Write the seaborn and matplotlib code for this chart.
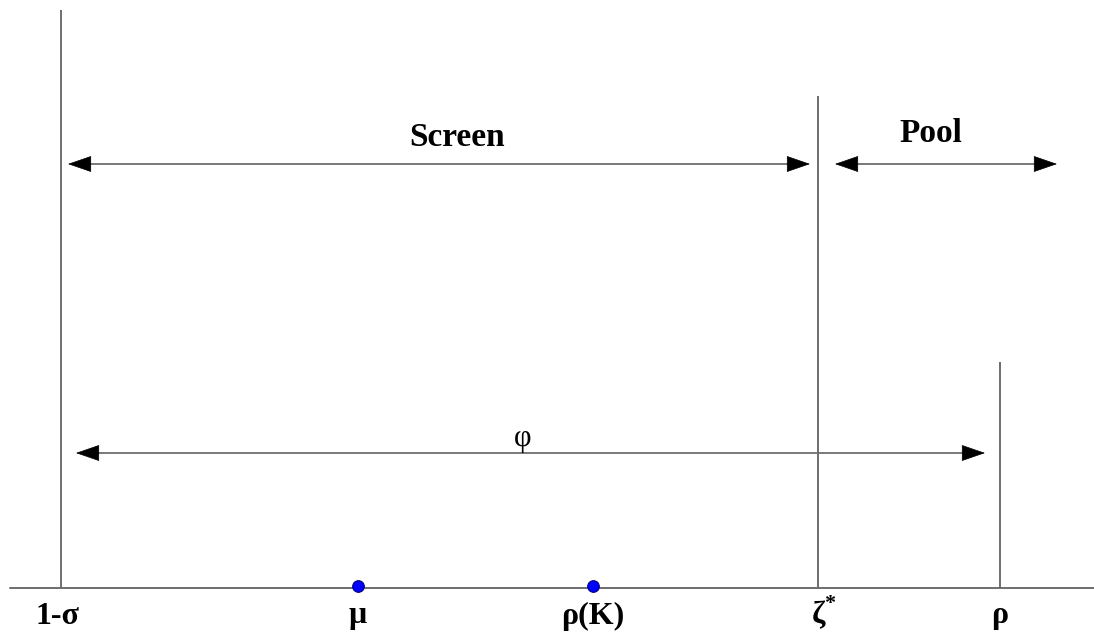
import matplotlib
matplotlib.use("Agg")
import matplotlib.pyplot as plt
import seaborn as sns
import pandas as pd

# Positions along the horizontal axis
tick_labels = ["1-σ", "μ", "ρ(K)", "ζ", "ρ"]
tick_x = [58, 358, 593, 818, 1000]

# Vertical markers: position and height above the baseline
vline_x = [61, 818, 1000]
vline_top = [578, 492, 226]

# Highlighted points on the baseline
point_names = ["μ", "ρ(K)"]
point_x = [358, 593]

# Double-headed range arrows: (start, end, height, label, label height)
arrow_start = [68, 835, 76]
arrow_end = [810, 1057, 985]
arrow_y = [424, 424, 135]
arrow_text = ["Screen", "Pool", "φ"]
arrow_text_y = [451, 455, 135]
arrow_text_x = [457, 931, 523]

sns.set_theme(style="white")
plt.rcParams["font.family"] = ["Liberation Serif", "DejaVu Serif"]

fig = plt.figure(figsize=(10.94, 6.36), dpi=100)
ax = fig.add_axes([0, 0, 1, 1])
ax.set_xlim(0, 1094)
ax.set_ylim(-48, 588)
ax.axis("off")

line_col = "#6e6e6e"

# Baseline
ax.plot([10, 1094], [0, 0], color=line_col, lw=1.4, zorder=1)

# Vertical markers
ax.vlines(vline_x, 0, vline_top, color=line_col, lw=1.4, zorder=1)

# Points
pts = pd.DataFrame({"name": point_names, "x": point_x, "y": [2, 2]})
sns.scatterplot(data=pts, x="x", y="y", ax=ax, color="#0000ff",
                edgecolor="#000080", linewidth=0.8, s=70, zorder=3, legend=False)

# Arrows with labels
for x0, x1, y, txt, ty, tx in zip(arrow_start, arrow_end, arrow_y,
                                  arrow_text, arrow_text_y, arrow_text_x):
    ax.annotate("", xy=(x1, y), xytext=(x0, y),
                arrowprops=dict(arrowstyle="-", color=line_col, lw=1.3,
                                shrinkA=10, shrinkB=10))
    for a, b in ((x0, x1), (x1, x0)):
        ax.annotate("", xy=(a, y), xytext=(a + (8 if b > a else -8), y),
                    arrowprops=dict(arrowstyle="-|>,head_length=1.3,head_width=0.45",
                                    color="black", lw=0.5, shrinkA=0, shrinkB=0))
    bold = txt != "φ"
    ax.text(tx, ty, txt, ha="center", va="bottom" if not bold else "center",
            fontsize=24 if bold else 22,
            fontweight="bold" if bold else "normal", color="black")

# Axis labels below the baseline
for x, lab in zip(tick_x, tick_labels):
    ax.text(x, -28, lab, ha="center", va="center", fontsize=23,
            fontweight="bold", color="black")
ax.text(tick_x[3] + 12, -16, "*", ha="center", va="center", fontsize=16,
        fontweight="bold", color="black")

fig.savefig("out.png", dpi=100)
